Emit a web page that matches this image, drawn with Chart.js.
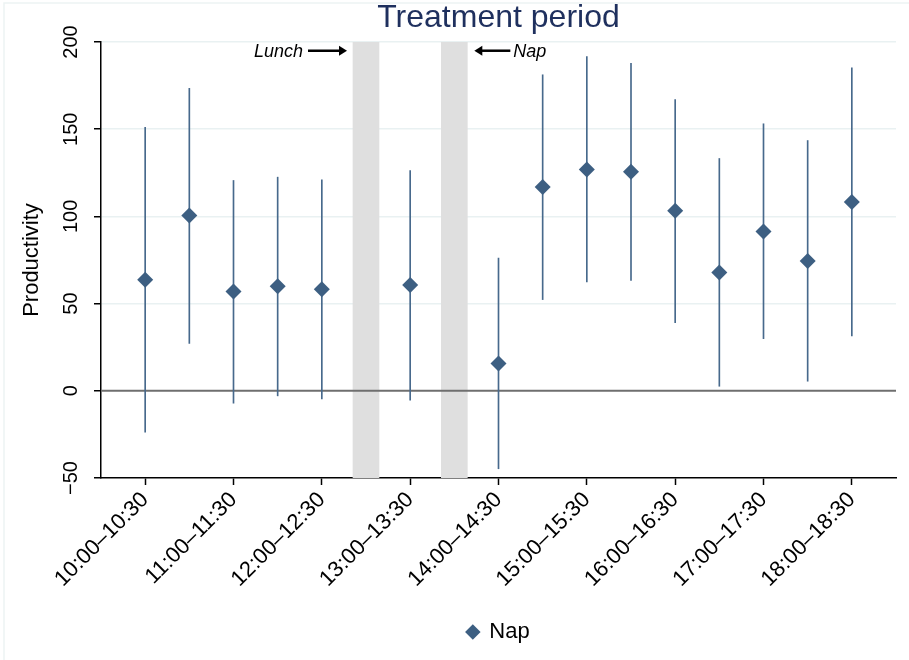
<!DOCTYPE html>
<html>
<head>
<meta charset="utf-8">
<script src="https://cdn.jsdelivr.net/npm/chart.js@4.4.1/dist/chart.umd.min.js"></script>
<style>
  body { margin: 0; background: #fff; }
  #wrap { width: 909px; height: 660px; }
</style>
</head>
<body>
<div id="wrap"><canvas id="chart-nap"></canvas></div>
<script>
let slots=["10:00–10:30","10:30–11:00","11:00–11:30","11:30–12:00","12:00–12:30","12:30–13:00","13:00–13:30","13:30–14:00","14:00–14:30","14:30–15:00","15:00–15:30","15:30–16:00","16:00–16:30","16:30–17:00","17:00–17:30","17:30–18:00","18:00–18:30"]
let estimate=[63.7, 100.5, 56.9, 59.9, 58.2, null, 60.7, null, 15.6, 116.8, 126.9, 125.6, 103.3, 67.8, 91.4, 74.4, 108.2]
let ci_low=[-23.7, 27.1, -7.1, -2.9, -4.6, null, -5.4, null, -44.7, 52.3, 62.4, 63.3, 39.1, 2.6, 29.9, 5.5, 31.5]
let ci_high=[151.1, 173.5, 120.6, 122.5, 121.0, null, 126.3, null, 76.1, 181.2, 191.6, 187.8, 167.0, 133.2, 153.1, 143.5, 185.2]
let breaks=[5, 7]
let break_names=["Lunch", "Nap"]
let y_ticks=[-50, 0, 50, 100, 150, 200]

let points=[], spikes=[]
for (let i=0; i<slots.length; i++) {
  if (estimate[i]===null) continue
  points.push({x: i, y: estimate[i]})
  spikes.push({x: i, y: [ci_low[i], ci_high[i]]})
}
let bands=breaks.map(b => ({x: b, y: [y_ticks[0], y_ticks[y_ticks.length-1]]}))
let zero_line=[{x: -1, y: 0}, {x: slots.length, y: 0}]

const navy='#3d5f82'

// title + lunch/nap arrows, placed from the scales
const notes={
  id: 'notes',
  afterDraw(chart) {
    const c=chart.ctx, a=chart.chartArea, xs=chart.scales.x, ys=chart.scales.y
    c.save()
    c.strokeStyle='#edf3f3'; c.lineWidth=1.5
    c.beginPath(); c.moveTo(4, 660); c.lineTo(4, 3); c.lineTo(909, 3); c.stroke()
    c.fillStyle='#1f305e'
    c.font='32px "Liberation Sans", Arial, sans-serif'
    c.textAlign='center'; c.textBaseline='middle'
    c.fillText('Treatment period', (a.left+a.right)/2, 18)

    const ty=ys.getPixelForValue(195)
    const half=13
    c.fillStyle='#000'; c.strokeStyle='#000'; c.lineWidth=2.5
    c.font='italic 18px "Liberation Sans", Arial, sans-serif'
    // lunch: arrow points right to band
    let bx=xs.getPixelForValue(breaks[0])-half
    c.beginPath(); c.moveTo(bx-45, ty); c.lineTo(bx-12, ty); c.stroke()
    c.beginPath(); c.moveTo(bx-6, ty); c.lineTo(bx-14, ty-5); c.lineTo(bx-14, ty+5); c.closePath(); c.fill()
    c.textAlign='right'; c.fillText(break_names[0], bx-50, ty+1)
    // nap: arrow points left to band
    bx=xs.getPixelForValue(breaks[1])+half
    c.beginPath(); c.moveTo(bx+12, ty); c.lineTo(bx+43, ty); c.stroke()
    c.beginPath(); c.moveTo(bx+7, ty); c.lineTo(bx+15, ty-5); c.lineTo(bx+15, ty+5); c.closePath(); c.fill()
    c.textAlign='left'; c.fillText(break_names[1], bx+46, ty+1)
    c.restore()
  }
}

Chart.defaults.font.family='"Liberation Sans", Arial, sans-serif'
Chart.defaults.color='#000'

var ctx = document.getElementById('chart-nap').getContext('2d')

var chart = new Chart(ctx, {
    type: 'scatter',
    data: {
      datasets: [{
        label: 'Nap',
        data: points,
        pointStyle: 'rectRot',
        pointRadius: 8,
        pointHoverRadius: 8,
        backgroundColor: navy,
        borderColor: navy,
        borderWidth: 0,
        order: 1,
      }, {
        type: 'bar',
        label: 'ci',
        data: spikes,
        backgroundColor: '#47698c',
        barThickness: 1,
        grouped: false,
        order: 2,
      }, {
        type: 'line',
        label: 'zero',
        data: zero_line,
        borderColor: '#6f6f6f',
        borderWidth: 2,
        pointRadius: 0,
        order: 3,
      }, {
        type: 'bar',
        label: 'breaks',
        data: bands,
        backgroundColor: '#dfdfdf',
        barThickness: 26,
        grouped: false,
        order: 4,
      }]
    },
    options: {
      responsive: true,
      maintainAspectRatio: false,
      animation: false,
      layout: { padding: { left: 0, right: 13, top: 42, bottom: 7 } },
      plugins: {
        legend: {
          position: 'bottom',
          fullSize: false,
          labels: {
            usePointStyle: true,
            boxWidth: 11,
            boxHeight: 11,
            padding: 10,
            font: { size: 22 },
            filter: item => item.text === 'Nap',
          }
        },
        tooltip: { enabled: false },
      },
      scales: {
        x: {
          type: 'linear',
          min: -1,
          max: slots.length,
          offset: false,
          afterBuildTicks: s => { s.ticks = slots.map((t, i) => ({value: i})).filter(t => t.value % 2 === 0) },
          afterFit: s => { s.height = 133 },
          grid: { offset: false, drawOnChartArea: false, tickLength: 7, tickColor: '#000', tickWidth: 1.5 },
          border: { color: '#000', width: 1.5 },
          ticks: {
            autoSkip: false,
            minRotation: 45,
            maxRotation: 45,
            padding: 2,
            font: { size: 22 },
            callback: v => slots[v],
          }
        },
        y: {
          min: y_ticks[0],
          max: y_ticks[y_ticks.length-1],
          afterBuildTicks: s => { s.ticks = y_ticks.map(v => ({value: v})) },
          afterFit: s => { s.width = 101 },
          title: { display: true, text: 'Productivity', font: { size: 22 }, padding: { top: 19, bottom: 0 } },
          grid: {
            color: c => (c.tick && (c.tick.value === 0 || c.tick.value === y_ticks[0])) ? 'rgba(0,0,0,0)' : '#e9f1f2',
            lineWidth: 1.5,
            tickLength: 7,
            tickColor: '#000',
            tickWidth: 1.5,
          },
          border: { color: '#000', width: 1.5 },
          ticks: {
            minRotation: 90,
            maxRotation: 90,
            crossAlign: 'center',
            padding: 6,
            font: { size: 20 },
            callback: v => v < 0 ? '−' + Math.abs(v) : String(v),
          }
        }
      }
    },
    plugins: [notes]
    });
</script>
</body>
</html>
